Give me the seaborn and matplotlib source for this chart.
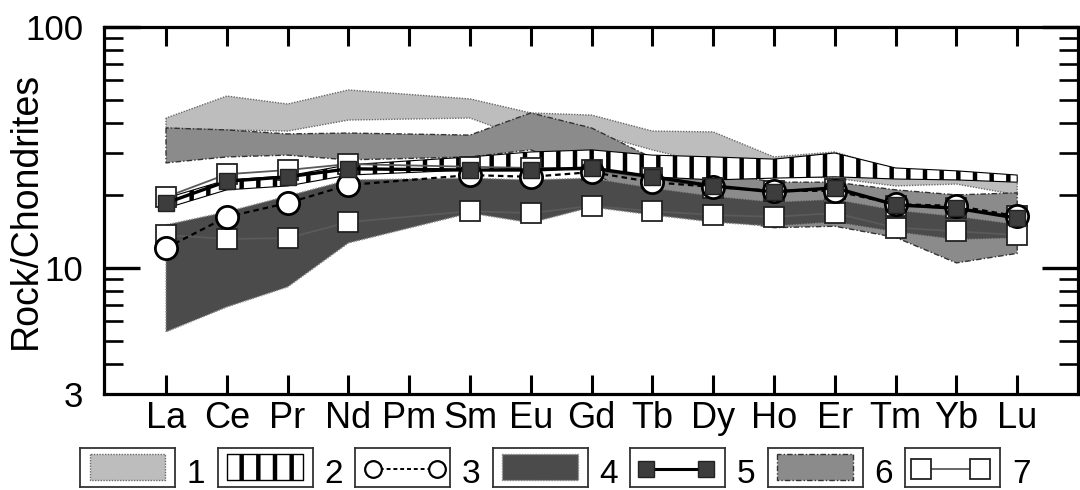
import numpy as np
import pandas as pd
import matplotlib
matplotlib.use("Agg")
import matplotlib.pyplot as plt
import seaborn as sns
from matplotlib.ticker import FixedLocator, FuncFormatter, NullLocator

# REE axis (Pm is shown on the axis but has no analyses)
elements = ["La", "Ce", "Pr", "Nd", "Pm", "Sm", "Eu", "Gd", "Tb", "Dy", "Ho", "Er", "Tm", "Yb", "Lu"]
measured = ["La", "Ce", "Pr", "Nd", "Sm", "Eu", "Gd", "Tb", "Dy", "Ho", "Er", "Tm", "Yb", "Lu"]

# Field 1 (light grey)
field1_hi = [41.9, 51.7, 47.9, 54.8, 50.3, 44.0, 43.1, 37.0, 36.7, 28.9, 30.3, 25.5, 25.0, 23.6]
field1_lo = [38.1, 37.4, 37.0, 41.1, 41.9, 34.0, 36.3, 30.9, 26.8, 24.3, 23.6, 21.9, 22.3, 20.1]
# Field 2 (hatched)
field2_hi = [19.5, 23.2, 24.1, 26.8, 28.9, 30.3, 30.9, 29.4, 28.9, 28.3, 30.0, 26.0, 25.3, 24.3]
field2_lo = [17.7, 21.1, 21.9, 24.3, 25.5, 26.0, 26.0, 23.9, 23.2, 23.6, 23.9, 23.4, 23.2, 22.7]
# Field 4 (dark grey)
field4_hi = [15.1, 17.1, 19.9, 23.2, 23.6, 23.2, 23.6, 21.5, 19.9, 18.8, 19.3, 17.4, 16.4, 15.2]
field4_lo = [5.43, 6.89, 8.34, 12.7, 16.9, 15.4, 17.9, 16.6, 15.5, 14.9, 15.5, 14.1, 13.1, 13.3]
# Field 6 (medium grey)
field6_hi = [38.1, 37.4, 36.0, 36.3, 35.6, 44.0, 38.1, 28.6, 25.0, 22.7, 22.7, 21.1, 20.1, 20.5]
field6_lo = [27.3, 28.9, 29.4, 28.1, 28.9, 30.9, 25.0, 18.3, 16.1, 14.7, 14.9, 13.4, 10.5, 11.5]

# Individual samples
sample3 = [12.1, 16.3, 18.6, 22.1, 24.3, 23.9, 25.0, 22.7, 21.7, 20.9, 20.9, 18.4, 18.1, 16.4]
sample5 = [18.6, 22.9, 23.9, 25.8, 25.5, 25.5, 26.0, 23.9, 21.9, 20.7, 21.5, 18.3, 17.7, 16.1]
sample7a = [19.7, 24.5, 25.5, 27.0, 26.3, 26.0, 25.5, 23.6, 21.5, 20.9, 21.3, 18.1, 17.7, 16.4]
sample7b = [13.7, 13.2, 13.3, 15.5, 17.2, 16.9, 18.1, 17.2, 16.6, 16.3, 16.9, 14.7, 14.2, 13.7]

legend_labels = ["1", "2", "3", "4", "5", "6", "7"]

C1, C4, C6 = "#bdbdbd", "#4b4b4b", "#8b8b8b"
C5 = "#3d3d3d"

sns.set_style("white")
plt.rcParams["font.family"] = ["Liberation Sans", "DejaVu Sans"]
plt.rcParams["hatch.linewidth"] = 3.2
for key in ("text.color", "axes.labelcolor", "xtick.color", "ytick.color", "axes.edgecolor"):
    plt.rcParams[key] = "black"

W, H = 1080, 490
fig = plt.figure(figsize=(W / 100, H / 100), dpi=100)
ax = fig.add_axes([104 / W, 96 / H, 974 / W, 367 / H])

xpos = [elements.index(e) for e in measured]

# Fields
ax.fill_between(xpos, field1_lo, field1_hi, facecolor=C1, edgecolor="#6a6a6a",
                linestyle=(0, (1, 1)), linewidth=1.0, zorder=1)
ax.fill_between(xpos, field6_lo, field6_hi, facecolor=C6, edgecolor="#333333",
                linestyle=(0, (4, 1.5, 1, 1.5)), linewidth=1.0, zorder=2)
ax.fill_between(xpos, field4_lo, field4_hi, facecolor=C4, edgecolor="#8a8a8a",
                linestyle=(0, (1, 1)), linewidth=1.0, zorder=3)
ax.fill_between(xpos, field2_lo, field2_hi, facecolor="white", edgecolor="black",
                hatch="|", linewidth=0.8, zorder=4)

# Samples
for vals in (sample7a, sample7b):
    sns.lineplot(data=pd.DataFrame({"x": xpos, "v": vals}), x="x", y="v", ax=ax,
                 color="#5a5a5a", linewidth=1.3, marker="s", markersize=15,
                 markerfacecolor="white", markeredgecolor="#222222", markeredgewidth=1.3,
                 legend=False, zorder=5)
sns.lineplot(data=pd.DataFrame({"x": xpos, "v": sample3}), x="x", y="v", ax=ax,
             color="black", linewidth=1.6, linestyle=(0, (2.5, 1.8)), marker="o", markersize=16,
             markerfacecolor="white", markeredgecolor="black", markeredgewidth=2.0,
             legend=False, zorder=6)
sns.lineplot(data=pd.DataFrame({"x": xpos, "v": sample5}), x="x", y="v", ax=ax,
             color="black", linewidth=2.4, marker="s", markersize=12,
             markerfacecolor=C5, markeredgecolor="#222222", markeredgewidth=1.0,
             legend=False, zorder=7)

# Axes
ax.set_yscale("log")
ax.set_ylim(3, 100)
ax.set_xlim(-1.02, 15.0)
ax.set_xticks(range(len(elements)))
ax.set_xticklabels(elements, fontsize=26)
ax.xaxis.set_minor_locator(NullLocator())
ax.yaxis.set_major_locator(FixedLocator([10, 100]))
ax.yaxis.set_minor_locator(FixedLocator([3, 4, 5, 6, 7, 8, 9, 20, 30, 40, 50, 60, 70, 80, 90]))
ax.yaxis.set_major_formatter(FuncFormatter(lambda v, p: f"{v:g}"))
ax.yaxis.set_minor_formatter(FuncFormatter(lambda v, p: "3" if abs(v - 3) < 1e-9 else ""))
ax.set_xlabel("")
ax.set_ylabel("Rock/Chondrites", fontsize=27, color="black")
ax.yaxis.set_label_coords(-0.062, 0.5)

for s in ax.spines.values():
    s.set_linewidth(2.3)
    s.set_color("black")
    s.set_visible(True)
ax.tick_params(which="both", direction="in", top=True, right=True, bottom=True, left=True,
               colors="black")
ax.tick_params(axis="x", which="major", length=14, width=2.2, pad=5)
ax.tick_params(axis="y", which="major", length=26, width=2.4, pad=15, labelsize=25)
ax.tick_params(axis="y", which="minor", length=14, width=1.9, pad=15, labelsize=25)

# Legend: one framed swatch per entry, numbered on its right
def legend_box(i):
    left = 80 + 137.5 * i
    lax = fig.add_axes([left / W, 3 / H, 95 / W, 39 / H])
    lax.set_xlim(0, 1)
    lax.set_ylim(0, 1)
    lax.set_xticks([])
    lax.set_yticks([])
    for s in lax.spines.values():
        s.set_linewidth(1.3)
        s.set_color("#333333")
        s.set_visible(True)
    fig.text((left + 107) / W, 0.5 / H, legend_labels[i], fontsize=24, ha="left", va="bottom")
    return lax

rx = [0.105, 0.895]
lax = legend_box(0)
lax.fill_between(rx, 0.18, 0.84, facecolor=C1, edgecolor="#6a6a6a", linestyle=(0, (1, 1)), linewidth=1.0)
lax = legend_box(1)
lax.fill_between(rx, 0.18, 0.84, facecolor="white", edgecolor="black", hatch="|", linewidth=1.0)
lax = legend_box(2)
lax.plot([0.19, 0.86], [0.45, 0.45], color="black", linewidth=1.4, linestyle=(0, (2, 1.5)),
         marker="o", markersize=12, markerfacecolor="white", markeredgecolor="black", markeredgewidth=1.6)
lax = legend_box(3)
lax.fill_between(rx, 0.18, 0.84, facecolor=C4, edgecolor="#8a8a8a", linestyle=(0, (1, 1)), linewidth=1.0)
lax = legend_box(4)
lax.plot([0.17, 0.8], [0.45, 0.45], color="black", linewidth=2.2, marker="s", markersize=12,
         markerfacecolor=C5, markeredgecolor="#222222", markeredgewidth=1.0)
lax = legend_box(5)
lax.fill_between(rx, 0.18, 0.84, facecolor=C6, edgecolor="#333333", linestyle=(0, (4, 1.5, 1, 1.5)), linewidth=1.0)
lax = legend_box(6)
lax.plot([0.17, 0.79], [0.45, 0.45], color="#5a5a5a", linewidth=1.3, marker="s", markersize=15,
         markerfacecolor="white", markeredgecolor="#222222", markeredgewidth=1.3)

fig.savefig("out.png", dpi=100)
